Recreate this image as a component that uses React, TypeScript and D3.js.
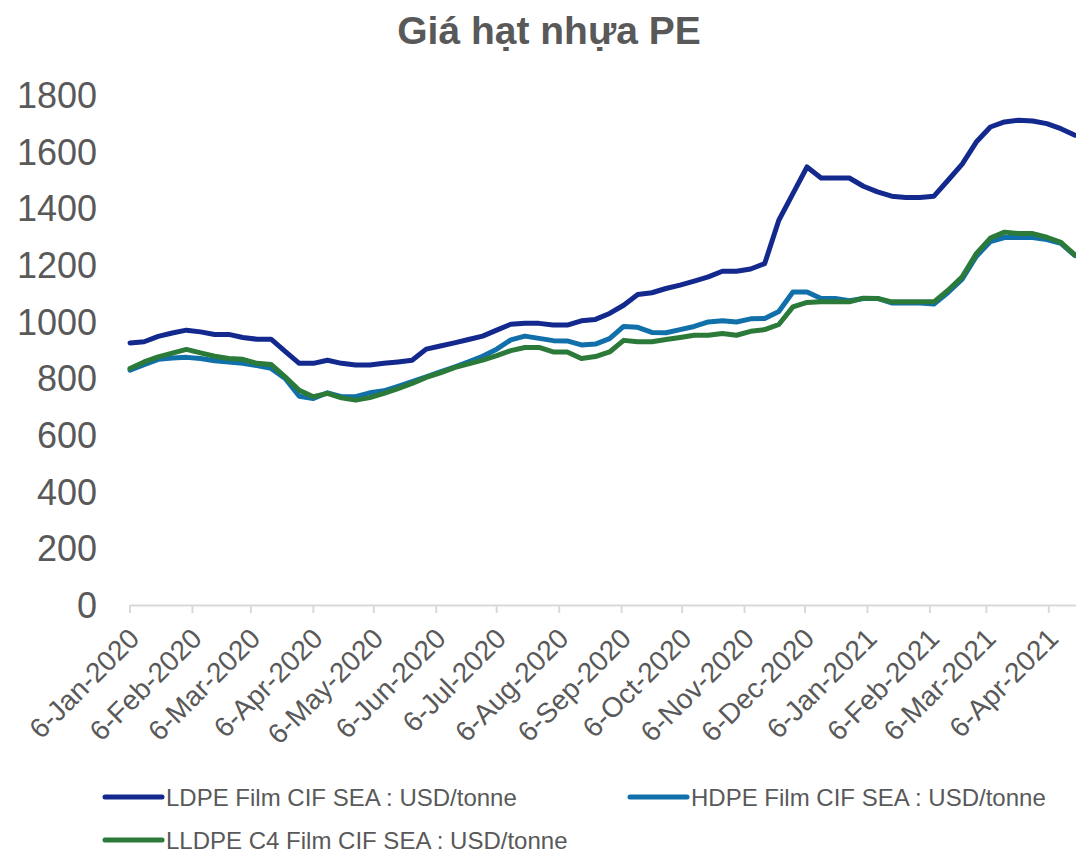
import React from 'react'
import * as d3 from 'd3'

const dates = [
  '2020-01-06', '2020-01-13', '2020-01-20', '2020-01-27', '2020-02-03', '2020-02-10', '2020-02-17', '2020-02-24',
  '2020-03-02', '2020-03-09', '2020-03-16', '2020-03-23', '2020-03-30', '2020-04-06', '2020-04-13', '2020-04-20',
  '2020-04-27', '2020-05-04', '2020-05-11', '2020-05-18', '2020-05-25', '2020-06-01', '2020-06-08', '2020-06-15',
  '2020-06-22', '2020-06-29', '2020-07-06', '2020-07-13', '2020-07-20', '2020-07-27', '2020-08-03', '2020-08-10',
  '2020-08-17', '2020-08-24', '2020-08-31', '2020-09-07', '2020-09-14', '2020-09-21', '2020-09-28', '2020-10-05',
  '2020-10-12', '2020-10-19', '2020-10-26', '2020-11-02', '2020-11-09', '2020-11-16', '2020-11-23', '2020-11-30',
  '2020-12-07', '2020-12-14', '2020-12-21', '2020-12-28', '2021-01-04', '2021-01-11', '2021-01-18', '2021-01-25',
  '2021-02-01', '2021-02-08', '2021-02-15', '2021-02-22', '2021-03-01', '2021-03-08', '2021-03-15', '2021-03-22',
  '2021-03-29', '2021-04-05', '2021-04-12', '2021-04-19',
]

const ldpe = [
  925, 929, 948, 960, 970, 964, 955, 955, 944, 938, 938, 895, 853, 853, 864, 853, 847, 847, 853, 858,
  864, 903, 914, 925, 937, 949, 970, 991, 994, 994, 988, 988, 1003, 1008, 1029, 1058, 1096, 1102, 1117, 1129,
  1143, 1158, 1178, 1178, 1186, 1205, 1358, 1452, 1546, 1507, 1507, 1507, 1478, 1458, 1443, 1438, 1438, 1443, 1499, 1556,
  1634, 1687, 1705, 1711, 1708, 1699, 1681, 1658,
]

const hdpe = [
  829, 848, 867, 872, 874, 870, 862, 858, 853, 845, 835, 800, 737, 729, 749, 735, 735, 749, 756, 772,
  788, 805, 823, 840, 858, 878, 903, 936, 949, 941, 933, 932, 918, 921, 940, 983, 980, 962, 961, 972,
  983, 999, 1003, 999, 1010, 1011, 1036, 1105, 1105, 1082, 1082, 1074, 1082, 1082, 1066, 1066, 1066, 1062, 1103, 1150,
  1230, 1283, 1297, 1297, 1297, 1290, 1276, 1233,
]

const lldpe = [
  835, 858, 876, 889, 902, 890, 878, 870, 867, 853, 849, 805, 758, 735, 747, 731, 723, 732, 747, 764,
  782, 803, 819, 838, 851, 864, 880, 898, 909, 909, 893, 893, 870, 877, 893, 934, 929, 929, 937, 944,
  952, 952, 958, 952, 966, 972, 990, 1052, 1068, 1070, 1070, 1070, 1083, 1082, 1070, 1070, 1070, 1070, 1111, 1158,
  1240, 1295, 1316, 1311, 1311, 1298, 1280, 1235,
]

const yTicks = [0, 200, 400, 600, 800, 1000, 1200, 1400, 1600, 1800]

const seriesNames = [
  'LDPE Film CIF SEA : USD/tonne',
  'HDPE Film CIF SEA : USD/tonne',
  'LLDPE C4 Film CIF SEA : USD/tonne',
]

const W = 1076
const H = 853
const font = '"Liberation Sans", Arial, sans-serif'
const textColor = '#595959'

export default function App() {
  const parse = d3.timeParse('%Y-%m-%d')
  const t = dates.map(d => parse(d) as Date)

  const x = d3.scaleTime().domain([t[0], t[t.length - 1]]).range([130, 1075])
  const y = d3.scaleLinear().domain([0, 1800]).range([605, 95])

  // monthly ticks on the 6th, starting at the first data point
  const xTicks = d3.timeMonth
    .range(d3.timeMonth.floor(t[0]), t[t.length - 1])
    .map(d => d3.timeDay.offset(d, 5))
  const fmt = d3.timeFormat('%-d-%b-%Y')

  const series = [
    { name: seriesNames[0], values: ldpe, color: '#13298e' },
    { name: seriesNames[1], values: hdpe, color: '#1170aa' },
    { name: seriesNames[2], values: lldpe, color: '#2b7a3a' },
  ]

  const line = d3.line<number>()
    .x((_, i) => x(t[i]))
    .y(v => y(v))

  const legendPos = [
    { x: 105, y: 797 },
    { x: 630, y: 797 },
    { x: 105, y: 840 },
  ]

  return (
    <svg width={W} height={H} style={{ position: 'absolute', left: 0, top: 0, background: '#fff' }} fontFamily={font}>
      <text x={549} y={44} textAnchor="middle" fontSize={39} fontWeight="bold" fill={textColor}>
        Giá hạt nhựa PE
      </text>

      {yTicks.map(v => (
        <text key={v} x={97} y={y(v)} dy="0.36em" textAnchor="end" fontSize={36} fill={textColor}>
          {v}
        </text>
      ))}

      <line x1={130} x2={W} y1={605.5} y2={605.5} stroke="#d9d9d9" strokeWidth={2} />
      {xTicks.map((d, i) => (
        <g key={i}>
          <line x1={x(d)} x2={x(d)} y1={605} y2={613} stroke="#d9d9d9" strokeWidth={2} />
          <text
            transform={`translate(${x(d) + 4},${633}) rotate(-45)`}
            textAnchor="end"
            dy="0.36em"
            fontSize={28}
            fill={textColor}
          >
            {fmt(d)}
          </text>
        </g>
      ))}

      {series.map(s => (
        <path key={s.name} d={line(s.values) || ''} fill="none" stroke={s.color} strokeWidth={5}
          strokeLinejoin="round" strokeLinecap="round" />
      ))}

      {series.map((s, i) => (
        <g key={s.name} transform={`translate(${legendPos[i].x},${legendPos[i].y})`}>
          <line x1={0} x2={57} y1={0} y2={0} stroke={s.color} strokeWidth={5} strokeLinecap="round" />
          <text x={61} y={0} dy="0.36em" fontSize={24} fill={textColor}>{s.name}</text>
        </g>
      ))}
    </svg>
  )
}
